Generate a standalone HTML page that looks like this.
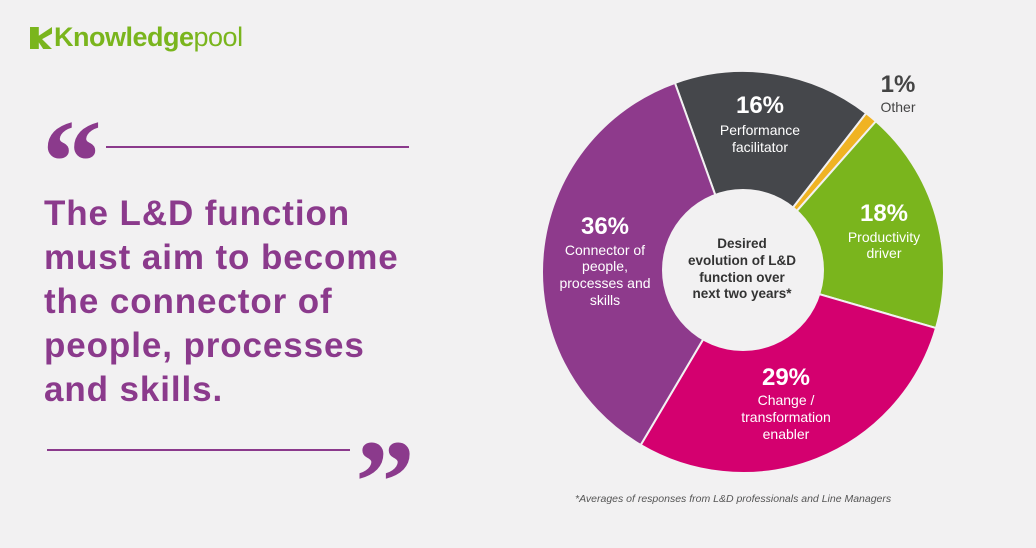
<!DOCTYPE html>
<html><head><meta charset="utf-8">
<style>
body{margin:0;width:1036px;height:540px;background:#f2f1f2;font-family:"Liberation Sans",sans-serif;overflow:hidden;position:relative}
.abs{position:absolute}
.head{left:44px;top:192px;font-size:35px;font-weight:bold;color:#8b3a8c;line-height:44px;letter-spacing:0.9px}
.q{font-family:"Liberation Serif",serif;font-size:120px;font-weight:bold;color:#8b3a8c;line-height:1}
.rule{height:2px;background:#8b3a8c}
</style></head><body>
<div class="abs" style="left:30px;top:22px;font-size:27px;font-weight:bold;color:#7ab51d;letter-spacing:-0.5px">
<span style="display:inline-block;width:22px;height:22px;background:#7ab51d;vertical-align:-3px;margin-right:2px;clip-path:polygon(0 0,40% 0,40% 40%,100% 0,100% 30%,55% 55%,100% 100%,60% 100%,40% 70%,40% 100%,0 100%)"></span>Knowledge<span style="font-weight:normal">pool</span></div>
<div class="abs q" style="left:42px;top:102px">&ldquo;</div>
<div class="abs rule" style="left:106px;top:146px;width:303px"></div>
<div class="abs head">The L&amp;D function<br>must aim to become<br>the connector of<br>people, processes<br>and skills.</div>
<div class="abs rule" style="left:47px;top:449px;width:303px"></div>
<div class="abs q" style="left:355px;top:422px">&rdquo;</div>
<svg class="abs" style="left:0;top:0" width="1036" height="540">
<g id="slices"></g>
<circle cx="743" cy="270" r="81" fill="#f2f1f2"/>
<g font-family="Liberation Sans,sans-serif" text-anchor="middle">
<g fill="#fff"><text x="760" y="113" font-size="24" font-weight="bold">16%</text><text x="760" y="135" font-size="14">Performance</text><text x="760" y="152" font-size="14">facilitator</text></g>
<g fill="#444"><text x="898" y="92" font-size="24" font-weight="bold">1%</text><text x="898" y="112" font-size="14">Other</text></g>
<g fill="#fff"><text x="884" y="221" font-size="24" font-weight="bold">18%</text><text x="884" y="242" font-size="14">Productivity</text><text x="884" y="258" font-size="14">driver</text></g>
<g fill="#fff"><text x="605" y="234" font-size="24" font-weight="bold">36%</text><text x="605" y="255" font-size="14">Connector of</text><text x="605" y="271" font-size="14">people,</text><text x="605" y="288" font-size="14">processes and</text><text x="605" y="305" font-size="14">skills</text></g>
<g fill="#fff"><text x="786" y="385" font-size="24" font-weight="bold">29%</text><text x="786" y="405" font-size="14">Change /</text><text x="786" y="422" font-size="14">transformation</text><text x="786" y="439" font-size="14">enabler</text></g>
<g fill="#333" font-size="13.5" font-weight="bold"><text x="742" y="248">Desired</text><text x="742" y="265">evolution of L&amp;D</text><text x="742" y="282">function over</text><text x="742" y="298">next two years*</text></g>
</g>
<text x="575" y="502" font-size="10.5" font-style="italic" fill="#555" font-family="Liberation Sans,sans-serif">*Averages of responses from L&amp;D professionals and Line Managers</text>
</svg>
<script>
const categories=["Performance facilitator","Other","Productivity driver","Change / transformation enabler","Connector of people, processes and skills"];
const values=[16,1,18,29,36];
const colors=["#45474b","#f0b323","#7ab51d","#d4006f","#8e3a8c"];
const cx=743,cy=272,r=201,start=-19.8;
const g=document.getElementById('slices');
const total=values.reduce((a,b)=>a+b,0);
let a=start;
function pt(deg){const t=(deg-90)*Math.PI/180;return [cx+r*Math.cos(t),cy+r*Math.sin(t)];}
values.forEach((v,i)=>{
  const a2=a+v/total*360;
  const p1=pt(a),p2=pt(a2);
  const large=(a2-a)>180?1:0;
  const p=document.createElementNS('http://www.w3.org/2000/svg','path');
  p.setAttribute('d',`M${cx},${cy}L${p1[0]},${p1[1]}A${r},${r} 0 ${large} 1 ${p2[0]},${p2[1]}Z`);
  p.setAttribute('fill',colors[i]);
  p.setAttribute('stroke','#f2f1f2');
  p.setAttribute('stroke-width','2');
  
  
  g.appendChild(p);
  a=a2;
});
</script>
</body></html>
